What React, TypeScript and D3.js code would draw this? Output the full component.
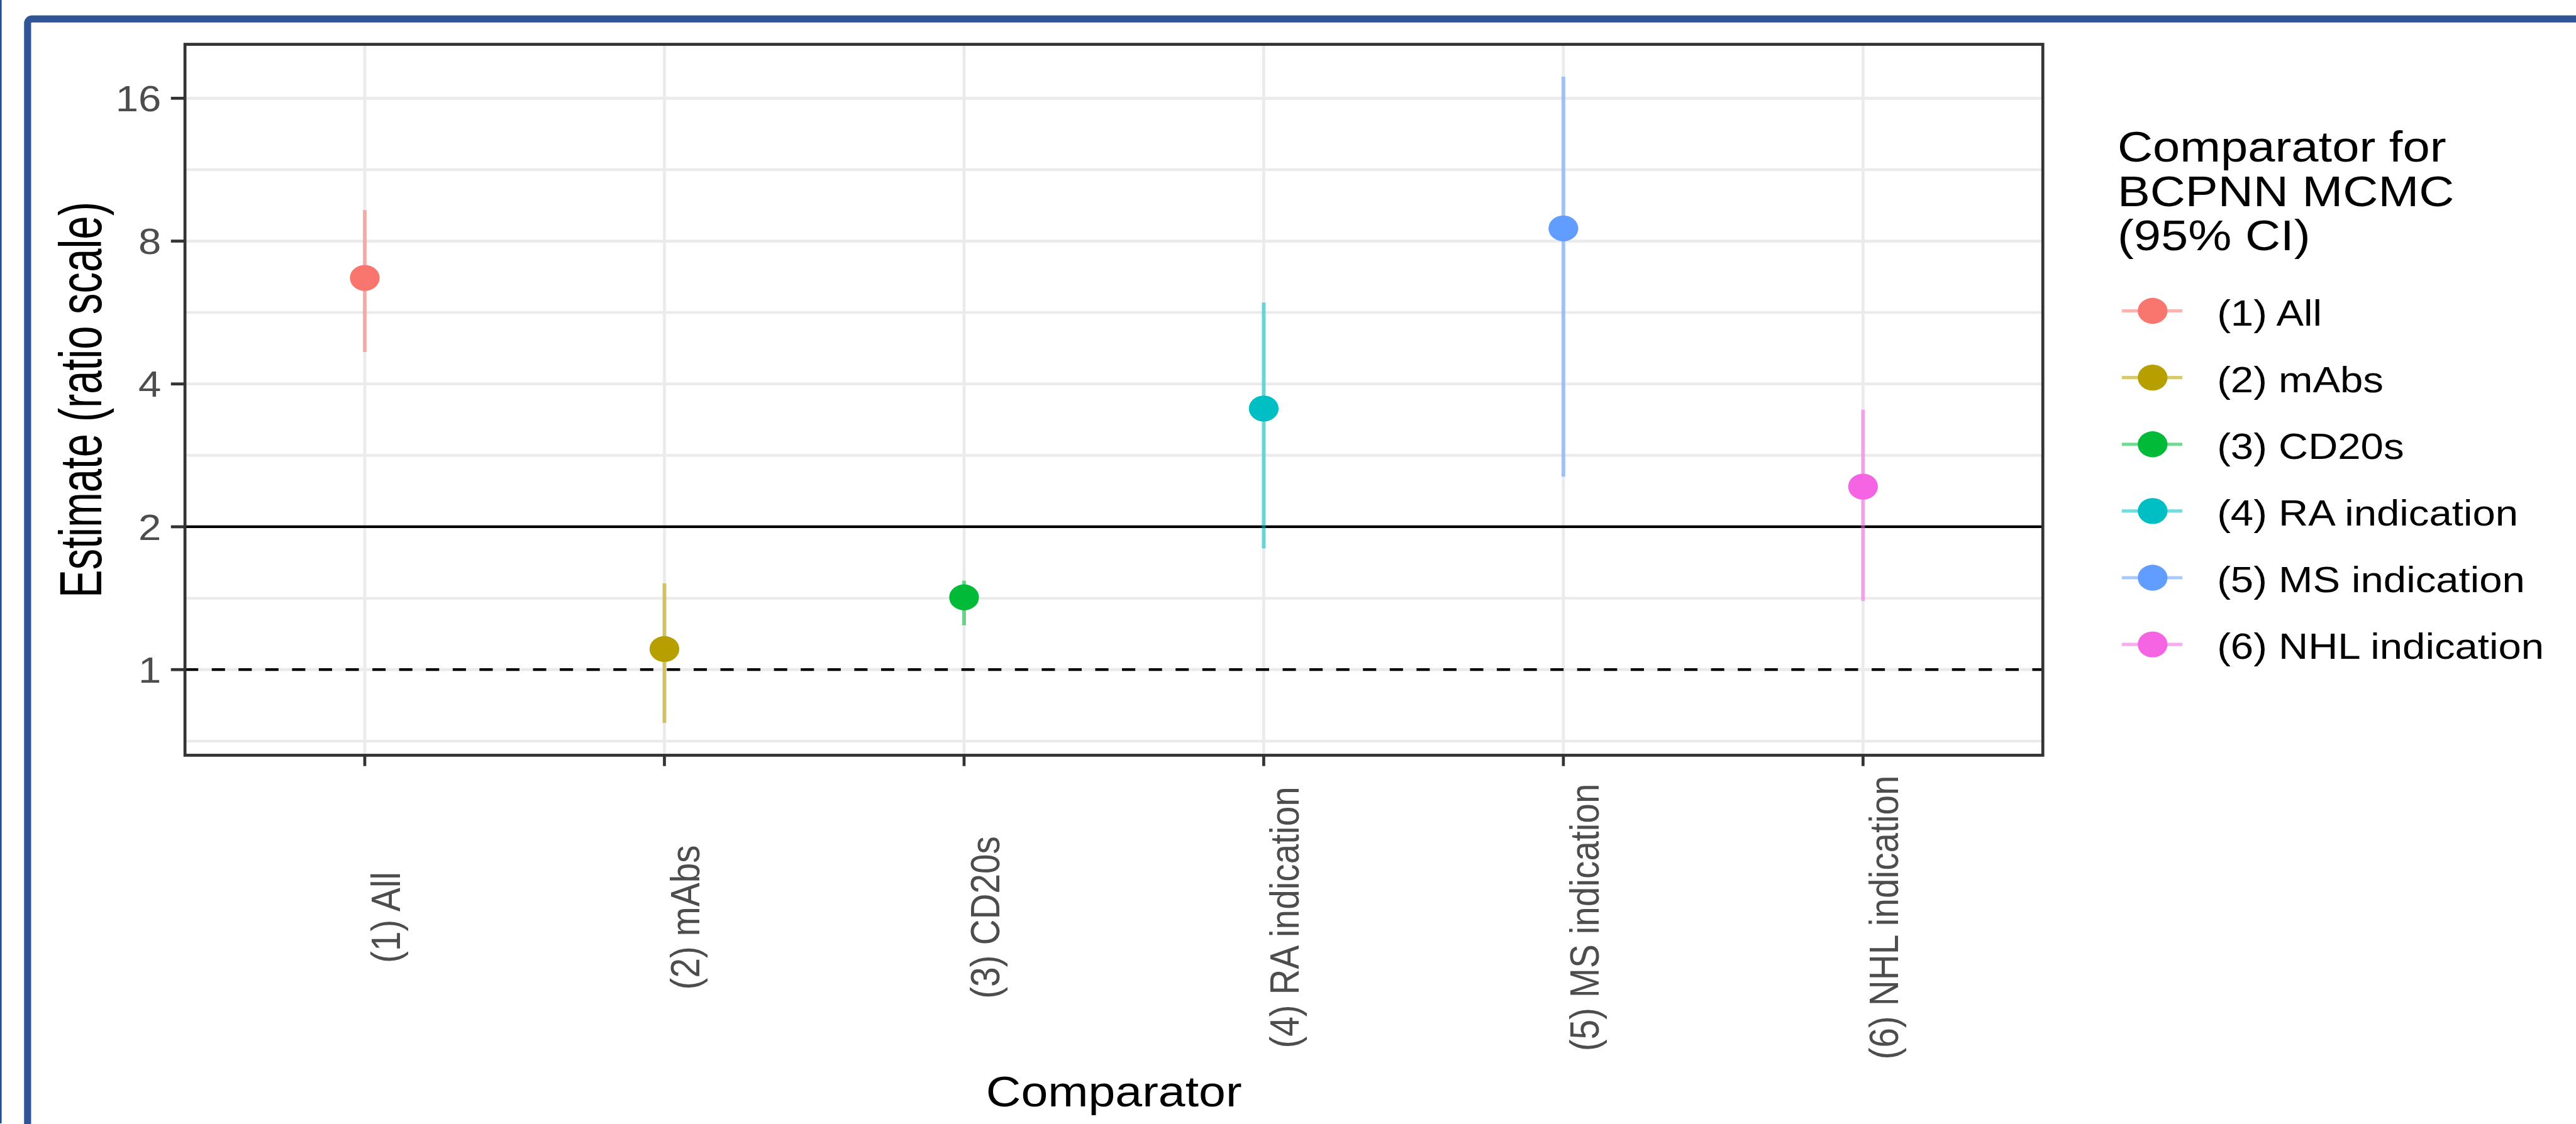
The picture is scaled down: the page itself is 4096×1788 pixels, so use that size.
import React from "react";
import * as d3 from "d3";

// ---- data ----
const categories = [
  "(1) All",
  "(2) mAbs",
  "(3) CD20s",
  "(4) RA indication",
  "(5) MS indication",
  "(6) NHL indication",
];
const estimates = [6.69, 1.105, 1.42, 3.55, 8.51, 2.43];
const lowerCI = [4.67, 0.772, 1.24, 1.8, 2.55, 1.395];
const upperCI = [9.3, 1.52, 1.54, 5.94, 17.77, 3.53];
const colors = ["#F8766D", "#B79F00", "#00BA38", "#00BFC4", "#619CFF", "#F564E3"];
const yTicks = [1, 2, 4, 8, 16];
const refSolid = 2;
const refDashed = 1;
const legendTitle = ["Comparator for", "BCPNN MCMC", "(95% CI)"];
const xTitle = "Comparator";
const yTitle = "Estimate (ratio scale)";

// ---- layout (reference pixel units, scaled by S) ----
const S = 0.86;
const FONT = "'Liberation Sans', Arial, sans-serif";
const P = { x0: 342, x1: 3777, y0: 82, y1: 1397 };
const SX = 1.15; // horizontal stretch of the reference's rendering

export default function App() {
  const lo = d3.min(lowerCI)!;
  const hi = d3.max(upperCI)!;
  const l0 = Math.log2(lo);
  const l1 = Math.log2(hi);
  const pad = (l1 - l0) * 0.05;
  const y = d3
    .scaleLog()
    .base(2)
    .domain([Math.pow(2, l0 - pad), Math.pow(2, l1 + pad)])
    .range([P.y1, P.y0]);
  const x = d3.scalePoint<string>().domain(categories).range([P.x0, P.x1]).padding(0.6);

  const [d0, d1] = y.domain();
  const minor: number[] = [];
  const ext = [yTicks[0] / 2, ...yTicks, yTicks[yTicks.length - 1] * 2];
  for (let i = 0; i < ext.length - 1; i++) {
    const m = Math.sqrt(ext[i] * ext[i + 1]);
    if (m > d0 && m < d1) minor.push(m);
  }

  const gridColor = "#EBEBEB";
  const dark = "#333333";
  const legendKeyY = (i: number) => 575 + i * 123.4;

  return (
    <svg
      width={4096}
      height={1788}
      style={{ position: "absolute", left: 0, top: 0, display: "block", background: "#fff" }}
    >
      <g transform={`scale(${S})`}>
        <rect x={0} y={0} width={4760} height={2078} fill="#ffffff" />
        {/* outer frame */}
        <line x1={1.5} x2={1.5} y1={0} y2={2078} stroke="#1D4E93" strokeWidth={3} />
        <rect
          x={51}
          y={35}
          width={5000}
          height={3000}
          rx={8}
          fill="none"
          stroke="#2F5597"
          strokeWidth={13}
        />

        {/* panel */}
        <rect x={P.x0} y={P.y0} width={P.x1 - P.x0} height={P.y1 - P.y0} fill="#fff" />
        <g clipPath="none">
          {minor.map((m, i) => (
            <line key={"mn" + i} x1={P.x0} x2={P.x1} y1={y(m)} y2={y(m)} stroke={gridColor} strokeWidth={5} />
          ))}
          {yTicks.map((t) => (
            <line key={"mj" + t} x1={P.x0} x2={P.x1} y1={y(t)} y2={y(t)} stroke={gridColor} strokeWidth={5.5} />
          ))}
          {categories.map((c) => (
            <line key={"vx" + c} x1={x(c)} x2={x(c)} y1={P.y0} y2={P.y1} stroke={gridColor} strokeWidth={5.5} />
          ))}
        </g>

        {/* reference lines */}
        <line x1={P.x0} x2={P.x1} y1={y(refSolid)} y2={y(refSolid)} stroke="#000" strokeWidth={5} />
        <line
          x1={P.x0}
          x2={P.x1}
          y1={y(refDashed)}
          y2={y(refDashed)}
          stroke="#000"
          strokeWidth={5}
          strokeDasharray="24.5 25"
        />

        {/* CI lines and points */}
        {categories.map((c, i) => (
          <g key={"pt" + c}>
            <line
              x1={x(c)}
              x2={x(c)}
              y1={y(lowerCI[i])}
              y2={y(upperCI[i])}
              stroke={colors[i]}
              strokeOpacity={0.55}
              strokeWidth={7}
            />
            <ellipse cx={x(c)} cy={y(estimates[i])} rx={27.5} ry={24} fill={colors[i]} />
          </g>
        ))}

        {/* panel border */}
        <rect
          x={P.x0}
          y={P.y0}
          width={P.x1 - P.x0}
          height={P.y1 - P.y0}
          fill="none"
          stroke={dark}
          strokeWidth={5.5}
        />

        {/* y axis */}
        {yTicks.map((t) => (
          <g key={"yt" + t}>
            <line x1={P.x0 - 26} x2={P.x0} y1={y(t)} y2={y(t)} stroke={dark} strokeWidth={5.5} />
            <text
              transform={`translate(298,${y(t) + 24}) scale(${SX},1)`}
              textAnchor="end"
              fontFamily={FONT}
              fontSize={66}
              fill="#4D4D4D"
            >
              {t}
            </text>
          </g>
        ))}
        <text
          transform={`translate(187,${(P.y0 + P.y1) / 2}) scale(1.4,1) rotate(-90)`}
          textAnchor="middle"
          fontFamily={FONT}
          fontSize={78}
          fill="#000"
        >
          {yTitle}
        </text>

        {/* x axis */}
        {categories.map((c) => (
          <g key={"xt" + c}>
            <line x1={x(c)} x2={x(c)} y1={P.y1} y2={P.y1 + 20} stroke={dark} strokeWidth={5.5} />
            <text
              transform={`translate(${x(c)! + 65},1697) scale(${SX},1) rotate(-90)`}
              textAnchor="middle"
              fontFamily={FONT}
              fontSize={66}
              fill="#4D4D4D"
            >
              {c}
            </text>
          </g>
        ))}
        <text
          transform={`translate(${(P.x0 + P.x1) / 2},2047) scale(1.12,1)`}
          textAnchor="middle"
          fontFamily={FONT}
          fontSize={80}
          fill="#000"
        >
          {xTitle}
        </text>

        {/* legend */}
        {legendTitle.map((t, i) => (
          <text
            key={"lt" + i}
            transform={`translate(3915,${299 + i * 82}) scale(1.13,1)`}
            fontFamily={FONT}
            fontSize={80}
            fill="#000"
          >
            {t}
          </text>
        ))}
        {categories.map((c, i) => (
          <g key={"lg" + c}>
            <line
              x1={3923}
              x2={4035}
              y1={legendKeyY(i)}
              y2={legendKeyY(i)}
              stroke={colors[i]}
              strokeOpacity={0.55}
              strokeWidth={6}
            />
            <ellipse cx={3980} cy={legendKeyY(i)} rx={27.5} ry={24} fill={colors[i]} />
            <text
              transform={`translate(4099,${legendKeyY(i) + 27}) scale(${SX},1)`}
              fontFamily={FONT}
              fontSize={66}
              fill="#000"
            >
              {c}
            </text>
          </g>
        ))}
      </g>
    </svg>
  );
}
